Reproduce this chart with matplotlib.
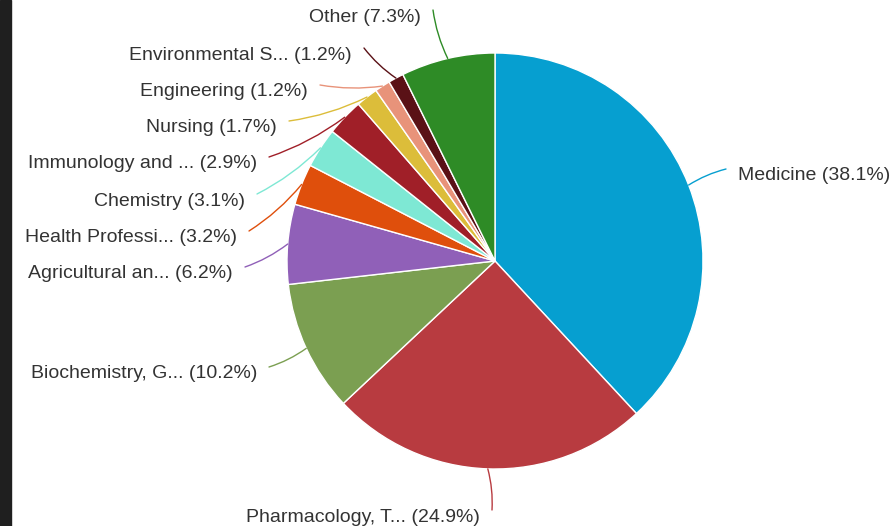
import numpy as np
import matplotlib.pyplot as plt
from matplotlib.patches import Rectangle

labels = ['Medicine', 'Pharmacology, T...', 'Biochemistry, G...', 'Agricultural an...',
          'Health Professi...', 'Chemistry', 'Immunology and ...', 'Nursing',
          'Engineering', 'Environmental S...', 'Other']
shares = [38.1, 24.9, 10.2, 6.2, 3.2, 3.1, 2.9, 1.7, 1.2, 1.2, 7.3]
colours = ['#069fd0', '#b83b40', '#7b9f51', '#9060b8', '#df4f0c', '#7ee8d4',
           '#a01f28', '#dcbd3a', '#e8937a', '#5a1116', '#2e8b26']

# label anchor (x, y in pixels from top-left), horizontal alignment
label_pos = [(738, 174, 'left'), (480, 515, 'right'), (257, 372, 'right'),
             (233, 272, 'right'), (237, 236, 'right'), (245, 199, 'right'),
             (257, 162, 'right'), (277, 126, 'right'), (308, 90, 'right'),
             (352, 53, 'right'), (421, 15, 'right')]

W, H = 894, 526
cx, cy, r = 495, 261, 208

fig = plt.figure(figsize=(W / 100, H / 100), dpi=100)
ax = fig.add_axes([0, 0, 1, 1])

wedges, _ = ax.pie(shares, colors=colours, startangle=90, counterclock=False,
                   center=(cx, H - cy), radius=r, frame=True,
                   wedgeprops=dict(edgecolor='white', linewidth=1))
ax.set_xlim(0, W)
ax.set_ylim(0, H)
ax.axis('off')

for w, lab, val, col, (tx, ty, ha) in zip(wedges, labels, shares, colours, label_pos):
    mid = np.deg2rad((w.theta1 + w.theta2) / 2)
    ex = cx + r * np.cos(mid)
    ey = H - cy + r * np.sin(mid)
    ty = H - ty
    lx = tx - 12 if ha == 'left' else tx + 12
    ax.annotate('', xy=(ex, ey), xytext=(lx, ty + 5),
                arrowprops=dict(arrowstyle='-', color=col, lw=1,
                                connectionstyle='arc3,rad=0.08', shrinkA=0, shrinkB=0))
    ax.text(tx, ty - 2, f'{lab} ({val}%)', ha=ha, va='center', fontsize=14,
            family=['Liberation Sans', 'DejaVu Sans'], color='#333333')

fig.patches.append(Rectangle((0, 0), 11 / W, 1, transform=fig.transFigure,
                             color='#1f1f1f', zorder=10))

fig.savefig('out.png', dpi=100)
